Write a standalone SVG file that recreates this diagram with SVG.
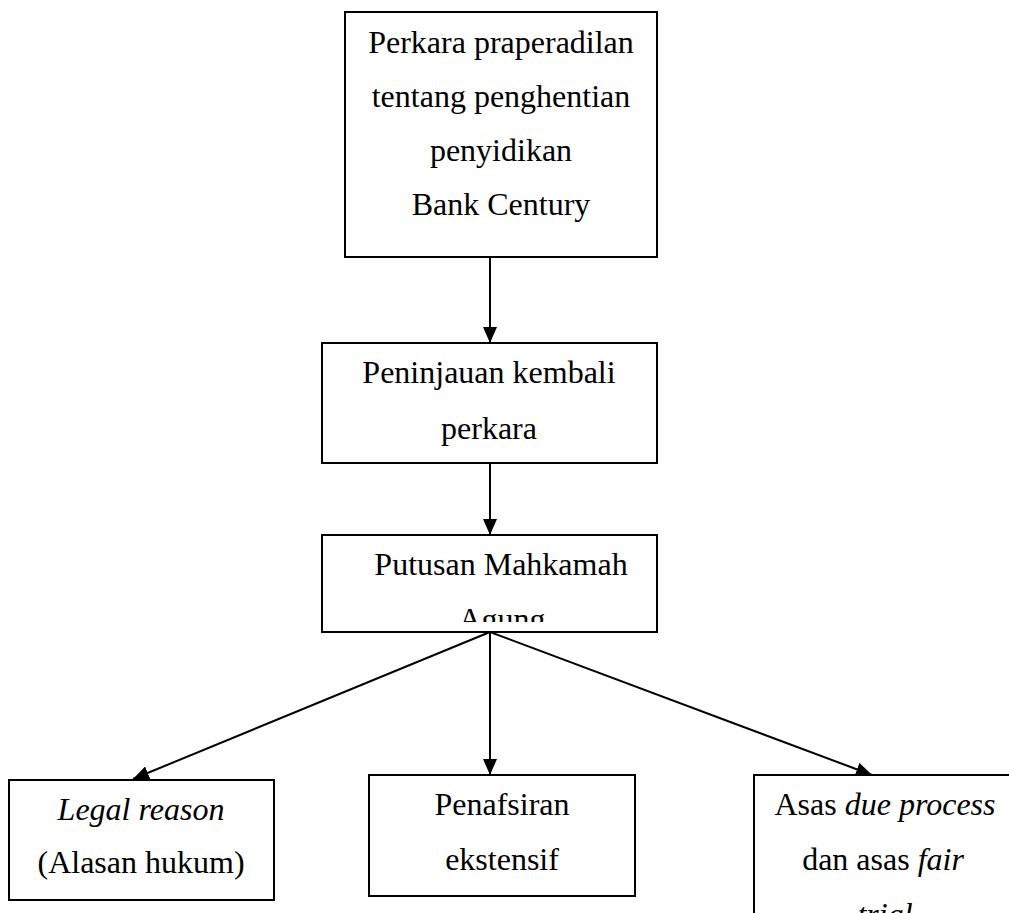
<svg xmlns="http://www.w3.org/2000/svg" width="1009" height="913" viewBox="0 0 1009 913">
<style>
.box{fill:#fff;stroke:#000;stroke-width:2}
.t{font-family:"Liberation Serif","Times New Roman",serif;font-size:32px;fill:#000;text-anchor:middle}
.i{font-style:italic}
.c{stroke:#000;stroke-width:2;fill:none;marker-end:url(#ah)}
</style>
<defs>
<marker id="ah" markerUnits="userSpaceOnUse" markerWidth="16" markerHeight="14" refX="16" refY="7" orient="auto">
<path d="M0,0 L16,7 L0,14 z" fill="#000"/>
</marker>
<clipPath id="clip3"><rect x="322" y="535" width="335" height="87"/></clipPath>
</defs>
<rect width="1009" height="913" fill="#fff"/>
<g id="connectors">
<line class="c" x1="490" y1="257" x2="490" y2="343"/>
<line class="c" x1="490" y1="463" x2="490" y2="535"/>
<line class="c" x1="490" y1="632" x2="490" y2="775"/>
<line class="c" x1="490" y1="632" x2="133" y2="779"/>
<line class="c" x1="490" y1="632" x2="872" y2="775"/>
</g>
<g id="node1">
<rect class="box" x="345" y="12" width="312" height="245"/>
<text class="t" x="501" y="53">Perkara praperadilan</text>
<text class="t" x="501" y="107">tentang penghentian</text>
<text class="t" x="501" y="161">penyidikan</text>
<text class="t" x="501" y="215">Bank Century</text>
</g>
<g id="node2">
<rect class="box" x="322" y="343" width="335" height="120"/>
<text class="t" x="489" y="383">Peninjauan kembali</text>
<text class="t" x="489" y="439">perkara</text>
</g>
<g id="node3">
<rect class="box" x="322" y="535" width="335" height="97"/>
<g clip-path="url(#clip3)">
<text class="t" x="501" y="575">Putusan Mahkamah</text>
<text class="t" x="502" y="630">Agung</text>
</g>
</g>
<g id="node4">
<rect class="box" x="9" y="780" width="265" height="120"/>
<text class="t i" x="141" y="820">Legal reason</text>
<text class="t" x="141" y="873">(Alasan hukum)</text>
</g>
<g id="node5">
<rect class="box" x="369" y="775" width="266" height="121"/>
<text class="t" x="502" y="815">Penafsiran</text>
<text class="t" x="502" y="870">ekstensif</text>
</g>
<g id="node6">
<rect class="box" x="754" y="775" width="300" height="180"/>
<text class="t" x="885" y="815">Asas <tspan class="i">due process</tspan></text>
<text class="t" x="883" y="870">dan asas <tspan class="i">fair</tspan></text>
<text class="t i" x="885" y="925">trial</text>
</g>
</svg>
